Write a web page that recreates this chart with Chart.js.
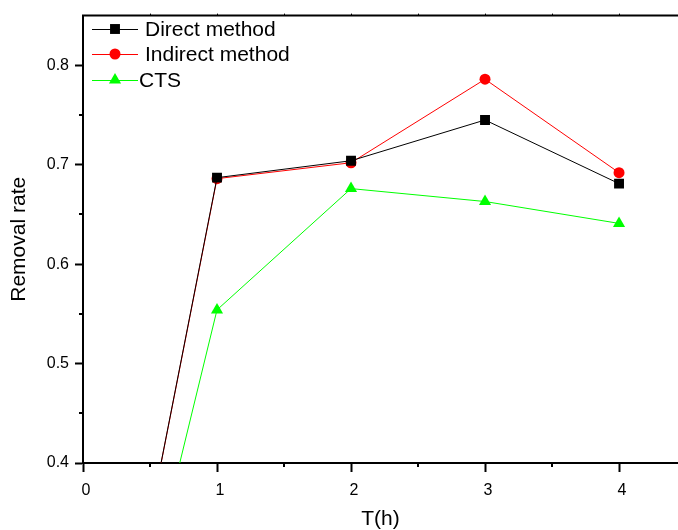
<!DOCTYPE html>
<html>
<head>
<meta charset="utf-8">
<script src="https://cdn.jsdelivr.net/npm/chart.js@4/dist/chart.umd.min.js"></script>
<style>
  html, body { margin: 0; padding: 0; background: #fff; }
  #wrap { width: 678px; height: 530px; }
</style>
</head>
<body>
<div id="wrap"><canvas id="removalChart" width="678" height="530"></canvas></div>
<script>
// --------------------------------
// Data
// --------------------------------
const hours = [0, 1, 2, 3, 4];
const directMethod = [0, 0.687, 0.704, 0.745, 0.681];
const indirectMethod = [0, 0.686, 0.702, 0.786, 0.692];
const ctsValues = [0, 0.554, 0.676, 0.663, 0.641];
const seriesNames = ['Direct method', 'Indirect method', 'CTS'];
const xTicks = [0, 1, 2, 3, 4];
const yTicks = [0.4, 0.5, 0.6, 0.7, 0.8];

const FONT = 'Liberation Sans, Arial, sans-serif';

function toPoints(values) {
    return hours.map((h, i) => ({ x: h, y: values[i] }));
}

// Minor ticks, top border and the in-plot legend
const framePlugin = {
    id: 'frame',
    afterDraw(chart) {
        const ctx = chart.ctx;
        const area = chart.chartArea;
        const xs = chart.scales.x;
        const ys = chart.scales.y;
        ctx.save();
        ctx.strokeStyle = '#000';
        ctx.lineWidth = 2;
        // top border
        ctx.beginPath();
        ctx.moveTo(area.left - 1, area.top);
        ctx.lineTo(area.right, area.top);
        ctx.stroke();
        // minor ticks
        for (let v = 0.5; v < xs.max; v += 1) {
            const px = Math.round(xs.getPixelForValue(v));
            ctx.beginPath();
            ctx.moveTo(px, area.bottom);
            ctx.lineTo(px, area.bottom + 4);
            ctx.stroke();
        }
        for (let v = 0.45; v < ys.max; v += 0.1) {
            const py = Math.round(ys.getPixelForValue(v));
            ctx.beginPath();
            ctx.moveTo(area.left, py);
            ctx.lineTo(area.left - 4, py);
            ctx.stroke();
        }
        // small ticks on the top border
        ctx.lineWidth = 1;
        for (let v = 0.5; v < xs.max; v += 0.5) {
            const px = Math.round(xs.getPixelForValue(v)) + 0.5;
            ctx.beginPath();
            ctx.moveTo(px, area.top);
            ctx.lineTo(px, area.top - 2);
            ctx.stroke();
        }

        // legend
        const rows = [29, 54, 80];
        const textX = [145, 145, 139];
        chart.data.datasets.forEach((ds, i) => {
            const y = rows[i];
            ctx.strokeStyle = ds.borderColor;
            ctx.lineWidth = 1;
            ctx.beginPath();
            ctx.moveTo(92, y + 0.5);
            ctx.lineTo(138, y + 0.5);
            ctx.stroke();
            drawMarker(ctx, ds.pointStyle, 115, y, ds.pointRadius, ds.pointBackgroundColor);
            ctx.fillStyle = '#000';
            ctx.font = '21px ' + FONT;
            ctx.textBaseline = 'middle';
            ctx.textAlign = 'left';
            ctx.fillText(ds.label, textX[i], y + 1);
        });
        ctx.restore();
    }
};

function drawMarker(ctx, style, x, y, r, color) {
    ctx.fillStyle = color;
    ctx.beginPath();
    if (style === 'rect') {
        const s = Math.SQRT1_2 * r;
        ctx.rect(x - s, y - s, 2 * s, 2 * s);
    } else if (style === 'triangle') {
        const h = r * 1.5;
        const half = r * Math.sqrt(3) / 2;
        ctx.moveTo(x, y - r);
        ctx.lineTo(x + half, y + h - r);
        ctx.lineTo(x - half, y + h - r);
        ctx.closePath();
    } else {
        ctx.arc(x, y, r, 0, Math.PI * 2);
    }
    ctx.fill();
}

const removalctx = document.getElementById('removalChart').getContext('2d');
const removalChart = new Chart(removalctx, {
    type: 'line',
    data: {
        datasets: [
            {
                label: seriesNames[0],
                data: toPoints(directMethod),
                borderColor: '#000000',
                backgroundColor: '#000000',
                pointBackgroundColor: '#000000',
                pointBorderWidth: 0,
                pointStyle: 'rect',
                pointRadius: 7,
                borderWidth: 1,
                fill: false
            },
            {
                label: seriesNames[1],
                data: toPoints(indirectMethod),
                borderColor: '#ff0000',
                backgroundColor: '#ff0000',
                pointBackgroundColor: '#ff0000',
                pointBorderWidth: 0,
                pointStyle: 'circle',
                pointRadius: 5.5,
                borderWidth: 1,
                fill: false
            },
            {
                label: seriesNames[2],
                data: toPoints(ctsValues),
                borderColor: '#00ff00',
                backgroundColor: '#00ff00',
                pointBackgroundColor: '#00ff00',
                pointBorderWidth: 0,
                pointStyle: 'triangle',
                pointRadius: 7,
                borderWidth: 1,
                fill: false
            }
        ]
    },
    options: {
        responsive: false,
        animation: false,
        events: [],
        layout: { autoPadding: false, padding: { top: 13, right: 0, bottom: 0, left: 0 } },
        plugins: {
            legend: { display: false },
            tooltip: { enabled: false }
        },
        elements: { line: { tension: 0 } },
        scales: {
            x: {
                type: 'linear',
                min: 0,
                max: 4.44,
                afterBuildTicks: (scale) => { scale.ticks = xTicks.map(v => ({ value: v })); },
                afterFit: (scale) => { scale.height = 67; },
                border: { display: true, color: '#000', width: 2 },
                grid: { drawOnChartArea: false, drawTicks: true, tickLength: 9, tickColor: '#000', tickWidth: 2 },
                ticks: {
                    color: '#000',
                    font: { family: FONT, size: 16 },
                    padding: 9,
                    labelOffset: 3,
                    maxRotation: 0,
                    callback: (v) => String(v)
                },
                title: {
                    display: true,
                    text: 'T(h)',
                    color: '#000',
                    font: { family: FONT, size: 21 },
                    padding: { top: 0, bottom: -2 }
                }
            },
            y: {
                type: 'linear',
                min: 0.4,
                max: 0.85,
                afterBuildTicks: (scale) => { scale.ticks = yTicks.map(v => ({ value: v })); },
                afterFit: (scale) => { scale.width = 83; },
                border: { display: true, color: '#000', width: 2 },
                grid: { drawOnChartArea: false, drawTicks: true, tickLength: 8, tickColor: '#000', tickWidth: 2 },
                ticks: {
                    color: '#000',
                    font: { family: FONT, size: 16 },
                    padding: 6,
                    callback: (v) => v.toFixed(1)
                },
                title: {
                    display: true,
                    text: 'Removal rate',
                    color: '#000',
                    font: { family: FONT, size: 21 },
                    padding: { top: 7, bottom: 0 }
                }
            }
        }
    },
    plugins: [framePlugin]
});
</script>
</body>
</html>
